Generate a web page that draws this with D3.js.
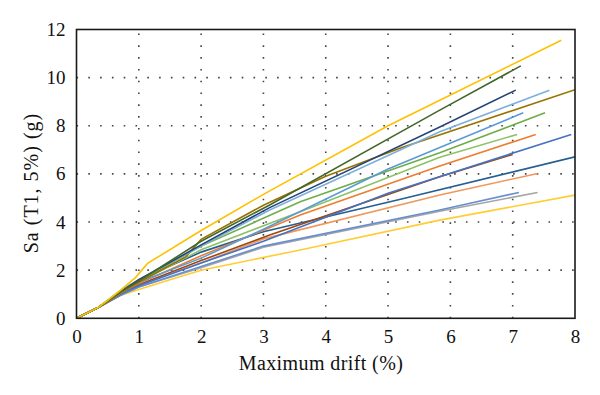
<!DOCTYPE html>
<html><head><meta charset="utf-8">
<script src="https://cdn.jsdelivr.net/npm/d3@7"></script>
<style>body{margin:0;background:#fff}</style>
</head><body>
<svg id="c" width="600" height="395"></svg>
<script>
const xTicks = [0,1,2,3,4,5,6,7,8];
const yTicks = [0,2,4,6,8,10,12];
const xLabel = "Maximum drift (%)";
const yLabel = "Sa (T1, 5%) (g)";
const seriesColors = ["#FFC000","#43682B","#264478","#7CAFDD","#997300","#5B9BD5","#70AD47","#8CC168","#ED7D31","#4472C4","#9E480E","#255E91","#F1975A","#698ED0","#A5A5A5","#FFCD33"];
const sGold = [[0,0],[0.35,0.45],[0.7,1.15],[0.95,1.7],[1.14,2.28],[2,3.65],[3,5.15],[5,8.0],[7.78,11.55]];
const sDarkGreen = [[0,0],[0.35,0.45],[0.7,1.1],[1,1.55],[2,3.2],[3.1,4.71],[5.83,8.65],[7.13,10.49]];
const sNavy = [[0,0],[0.35,0.45],[0.7,1.1],[1,1.6],[2,3.05],[3.1,4.6],[5.83,7.95],[7.05,9.48]];
const sLightBlue = [[0,0],[0.35,0.45],[0.7,1.15],[1,1.6],[2,3.0],[3.1,4.5],[5.83,7.75],[7.59,9.48]];
const sBrown = [[0,0],[0.35,0.45],[0.7,1.05],[1,1.5],[1.75,2.55],[2,3.28],[3,4.7],[4,5.9],[5.2,7.08],[8,9.5]];
const sMedBlue = [[0,0],[0.35,0.45],[0.7,1.1],[1,1.5],[2,2.5],[3,3.7],[5,6.2],[7.17,8.54]];
const sGreen = [[0,0],[0.35,0.45],[0.7,1.05],[1,1.55],[2,3.0],[3.59,4.84],[5.83,6.88],[7.52,8.54]];
const sLightGreen = [[0,0],[0.35,0.45],[0.7,1.05],[1,1.5],[2,2.85],[3.59,4.43],[5.83,6.69],[7.07,7.64]];
const sOrange = [[0,0],[0.35,0.45],[0.7,1.05],[1,1.45],[2,2.6],[3.59,4.29],[5.83,6.33],[7.37,7.64]];
const sBlue = [[0,0],[0.35,0.45],[0.7,1.0],[1,1.35],[2,2.3],[3,3.2],[5,5.2],[7.94,7.64]];
const sBrownRed = [[0,0],[0.35,0.45],[0.7,1.0],[1,1.4],[2,2.4],[3.1,3.46],[5.83,5.88],[7.0,6.81]];
const sDarkBlue = [[0,0],[0.35,0.45],[0.7,1.05],[1,1.6],[2,2.75],[3,3.6],[5.2,4.95],[8,6.71]];
const sLightOrange = [[0,0],[0.35,0.45],[0.7,1.0],[1,1.4],[2,2.3],[3,3.3],[5.83,5.12],[7.4,6.02]];
const sBlue2 = [[0,0],[0.35,0.45],[0.7,0.95],[1,1.3],[2,2.15],[3,3.0],[5.83,4.5],[7.1,5.23]];
const sGrey = [[0,0],[0.35,0.45],[0.7,0.95],[1,1.3],[2,2.1],[3,2.95],[5.83,4.45],[7.4,5.23]];
const sYellow = [[0,0],[0.35,0.45],[0.7,0.95],[1,1.2],[1.5,1.6],[2,2.0],[3.59,2.84],[5.83,4.08],[8,5.12]];
const allSeries = [sGold,sDarkGreen,sNavy,sLightBlue,sBrown,sMedBlue,sGreen,sLightGreen,sOrange,sBlue,sBrownRed,sDarkBlue,sLightOrange,sBlue2,sGrey,sYellow];

const svg = d3.select("#c");
const L=76.5, R=575, T=29.5, B=318.3;
const x = d3.scaleLinear().domain([0,8]).range([L,R]);
const y = d3.scaleLinear().domain([0,12]).range([B,T]);
const font = "'Liberation Serif','DejaVu Serif',serif";

svg.append("clipPath").attr("id","pc").append("rect")
  .attr("x",L).attr("y",T).attr("width",R-L).attr("height",B-T);

// grid
const g = svg.append("g");
g.selectAll("line.vx").data(xTicks.filter(d=>d>0&&d<8)).join("line")
  .attr("x1",d=>x(d)).attr("x2",d=>x(d)).attr("y1",B).attr("y2",T)
  .attr("stroke","#444").attr("stroke-width",1.6).attr("stroke-dasharray","1.6,10.2");
g.selectAll("line.hy").data(yTicks.filter(d=>d>0&&d<12)).join("line")
  .attr("y1",d=>y(d)).attr("y2",d=>y(d)).attr("x1",L).attr("x2",R)
  .attr("stroke","#444").attr("stroke-width",1.6).attr("stroke-dasharray","1.6,10.2");

// lines
const line = d3.line().x(d=>x(d[0])).y(d=>y(d[1]));
svg.append("g").attr("clip-path","url(#pc)").selectAll("path").data(allSeries.slice().reverse()).join("path")
  .attr("d",line).attr("fill","none")
  .attr("stroke",(d,i)=>seriesColors[allSeries.length-1-i]).attr("stroke-width",1.6);

// frame
svg.append("rect").attr("x",L).attr("y",T).attr("width",R-L).attr("height",B-T)
  .attr("fill","none").attr("stroke","#1a1a1a").attr("stroke-width",1.6);

// axes
const xa = d3.axisBottom(x).tickValues(xTicks).tickSize(0).tickPadding(11);
svg.append("g").attr("transform",`translate(0,${B})`).call(xa)
  .call(s=>s.select(".domain").remove())
  .selectAll("text").attr("font-family",font).attr("font-size",19).attr("fill","#111");
const ya = d3.axisLeft(y).tickValues(yTicks).tickSize(0).tickPadding(11);
svg.append("g").attr("transform",`translate(${L},0)`).call(ya)
  .call(s=>s.select(".domain").remove())
  .selectAll("text").attr("font-family",font).attr("font-size",19).attr("fill","#111");

svg.append("text").attr("x",321).attr("y",370).attr("text-anchor","middle")
  .attr("font-family",font).attr("font-size",20).attr("letter-spacing",0.4).attr("fill","#111").text(xLabel);
svg.append("text").attr("transform",`translate(38,183) rotate(-90)`).attr("text-anchor","middle")
  .attr("font-family",font).attr("font-size",20).attr("letter-spacing",1).attr("fill","#111").text(yLabel);
</script>
</body></html>
